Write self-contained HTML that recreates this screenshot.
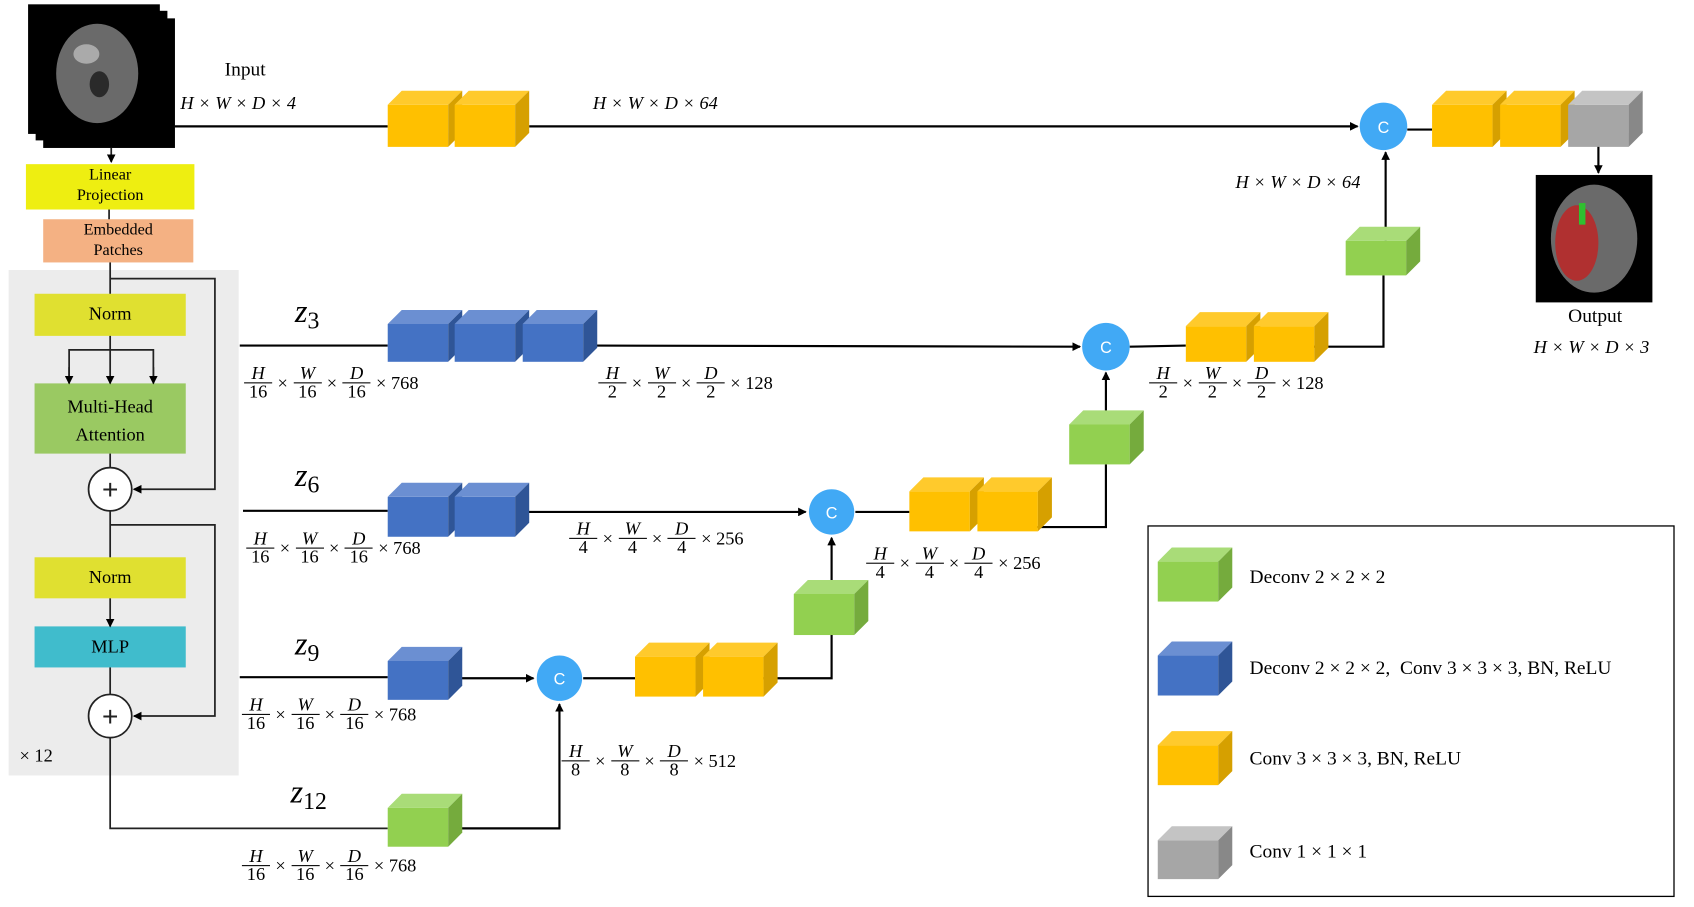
<!DOCTYPE html>
<html><head><meta charset="utf-8">
<style>
body{margin:0;width:1694px;height:907px;background:#fff;position:relative;overflow:hidden;font-family:"Liberation Serif",serif;}
#w{position:absolute;left:0;top:0;width:1569px;height:840px;transform:scale(1.08);transform-origin:0 0;}
svg{position:absolute;left:0;top:0}
.l{position:absolute;white-space:nowrap;font-family:"Liberation Serif",serif;font-size:17px;color:#000}
.m{font-style:italic}
.fl{position:absolute;display:flex;align-items:center;font-family:"Liberation Serif",serif;font-size:17px;white-space:nowrap}
.fr{display:inline-flex;flex-direction:column;align-items:center;line-height:16px;margin:0 2px}
.fr i{border-bottom:1px solid #000;padding:0 2px;display:block;text-align:center;min-width:22px}
.fr span{display:block}
.x{margin:0 3px}
.z{position:absolute;font-family:"Liberation Serif",serif;font-style:italic;font-size:30px}
.z sub{font-style:normal;font-size:22px;vertical-align:-6px}
</style></head><body><div id="w">
<svg width="1569" height="840">
<defs><marker id="a" markerWidth="8" markerHeight="8" refX="7" refY="4" orient="auto" markerUnits="userSpaceOnUse"><path d="M0,0 L8,4 L0,8 z" fill="#000"/></marker></defs>
<rect x="8" y="250" width="213" height="468" fill="#ececec"/>
<rect x="40" y="17" width="122" height="120" fill="#000"/>
<rect x="33" y="10" width="122" height="120" fill="#000"/>
<rect x="26" y="4" width="122" height="120" fill="#000"/>
<ellipse cx="90" cy="68" rx="38" ry="46" fill="#6a6a6a"/>
<ellipse cx="80" cy="50" rx="12" ry="9" fill="#aaa"/>
<ellipse cx="92" cy="78" rx="9" ry="12" fill="#2a2a2a"/>
<rect x="1422" y="162" width="108" height="118" fill="#000"/>
<ellipse cx="1476" cy="221" rx="40" ry="50" fill="#6a6a6a"/>
<ellipse cx="1460" cy="225" rx="20" ry="35" fill="#b03030"/>
<rect x="1462" y="188" width="6" height="20" fill="#30c030"/>
<rect x="24" y="152" width="156" height="42" fill="#eeee11"/>
<rect x="40" y="203" width="139" height="40" fill="#f4b183"/>
<rect x="32" y="272" width="140" height="39" fill="#e0e030"/>
<rect x="32" y="355" width="140" height="65" fill="#9ac962"/>
<rect x="32" y="516" width="140" height="38" fill="#e0e030"/>
<rect x="32" y="580" width="140" height="38" fill="#40bccc"/>
<g stroke="#222" stroke-width="1.6" fill="none">
<line x1="103" y1="137" x2="103" y2="150" marker-end="url(#a)"/>
<line x1="101" y1="194" x2="101" y2="203"/>
<line x1="102" y1="243" x2="102" y2="272"/>
<polyline points="102,258 199,258 199,453 124,453" marker-end="url(#a)"/>
<line x1="102" y1="311" x2="102" y2="355" marker-end="url(#a)"/>
<polyline points="64,354 64,324 142,324 142,354"/>
<line x1="64" y1="340" x2="64" y2="355" marker-end="url(#a)"/>
<line x1="142" y1="340" x2="142" y2="355" marker-end="url(#a)"/>
<line x1="102" y1="420" x2="102" y2="433"/>
<circle cx="102" cy="453" r="20" fill="#fff"/>
<line x1="102" y1="473" x2="102" y2="516"/>
<polyline points="102,486 199,486 199,663 124,663" marker-end="url(#a)"/>
<line x1="102" y1="554" x2="102" y2="580" marker-end="url(#a)"/>
<line x1="102" y1="618" x2="102" y2="643"/>
<circle cx="102" cy="663" r="20" fill="#fff"/>
<polyline points="102,683 102,767 359,767"/>
</g>
<g font-family="Liberation Sans" font-size="26" text-anchor="middle" fill="#222">
<text x="102" y="462">+</text><text x="102" y="672">+</text></g>
<g stroke="#000" stroke-width="2" fill="none">
<line x1="162" y1="117" x2="359" y2="117"/>
<line x1="490" y1="117" x2="1257" y2="117" marker-end="url(#a)"/>
<line x1="1303" y1="120" x2="1326" y2="120"/>
<line x1="1480" y1="135" x2="1480" y2="160" marker-end="url(#a)"/>
<line x1="1283" y1="223" x2="1283" y2="141" marker-end="url(#a)"/>
<line x1="222" y1="320" x2="359" y2="320"/>
<line x1="551" y1="320" x2="1000" y2="321" marker-end="url(#a)"/>
<line x1="1046" y1="321" x2="1098" y2="320"/>
<polyline points="1215,321 1281,321 1281,255"/>
<line x1="1024" y1="393" x2="1024" y2="345" marker-end="url(#a)"/>
<line x1="225" y1="473" x2="359" y2="473"/>
<line x1="488" y1="474" x2="746" y2="474" marker-end="url(#a)"/>
<line x1="792" y1="474" x2="842" y2="474"/>
<polyline points="960,488 1024,488 1024,430"/>
<line x1="770" y1="552" x2="770" y2="498" marker-end="url(#a)"/>
<line x1="222" y1="627" x2="359" y2="627"/>
<line x1="427" y1="628" x2="494" y2="628" marker-end="url(#a)"/>
<line x1="540" y1="628" x2="588" y2="628"/>
<polyline points="705,628 770,628 770,588"/>
<polyline points="425,767 518,767 518,652" marker-end="url(#a)"/>
</g>
<g fill="#41a9f5"><circle cx="1281" cy="117" r="22"/><circle cx="1024" cy="321" r="22"/><circle cx="770" cy="474" r="21"/><circle cx="518" cy="628" r="21"/></g>
<g fill="#fff" font-family="Liberation Sans" font-size="15" text-anchor="middle">
<text x="1281" y="123">C</text><text x="1024" y="327">C</text><text x="770" y="480">C</text><text x="518" y="634">C</text></g>
<rect x="1063" y="487" width="487" height="343" fill="none" stroke="#000" stroke-width="1.2"/>
<g id="cubes"></g>
</svg>
<div class="l" style="left:208px;top:54px;font-size:18px">Input</div>
<div class="l m" style="left:167px;top:86px">H × W × D × 4</div>
<div class="l m" style="left:549px;top:86px">H × W × D × 64</div>
<div class="l m" style="left:1144px;top:159px">H × W × D × 64</div>
<div class="l" style="left:1452px;top:282px;font-size:18px">Output</div>
<div class="l m" style="left:1420px;top:312px">H × W × D × 3</div>
<div class="l" style="left:24px;top:153px;width:156px;text-align:center;font-size:15px;line-height:19px">Linear<br>Projection</div>
<div class="l" style="left:40px;top:204px;width:139px;text-align:center;font-size:15px;line-height:19px">Embedded<br>Patches</div>
<div class="l" style="left:32px;top:281px;width:140px;text-align:center;font-size:17px">Norm</div>
<div class="l" style="left:32px;top:364px;width:140px;text-align:center;font-size:17px;line-height:26px">Multi-Head<br>Attention</div>
<div class="l" style="left:32px;top:525px;width:140px;text-align:center;font-size:17px">Norm</div>
<div class="l" style="left:32px;top:589px;width:140px;text-align:center;font-size:17px">MLP</div>
<div class="l" style="left:18px;top:690px;font-size:17px">× 12</div>
<div class="z" style="left:273px;top:272px">z<sub>3</sub></div>
<div class="z" style="left:273px;top:424px">z<sub>6</sub></div>
<div class="z" style="left:273px;top:580px">z<sub>9</sub></div>
<div class="z" style="left:269px;top:717px">z<sub>12</sub></div>
<div class="fl" style="left:224px;top:338px"><span class="fr"><i>H</i><span>16</span></span><span class="x">×</span><span class="fr"><i>W</i><span>16</span></span><span class="x">×</span><span class="fr"><i>D</i><span>16</span></span><span class="x">× 768</span></div>
<div class="fl" style="left:226px;top:491px"><span class="fr"><i>H</i><span>16</span></span><span class="x">×</span><span class="fr"><i>W</i><span>16</span></span><span class="x">×</span><span class="fr"><i>D</i><span>16</span></span><span class="x">× 768</span></div>
<div class="fl" style="left:222px;top:645px"><span class="fr"><i>H</i><span>16</span></span><span class="x">×</span><span class="fr"><i>W</i><span>16</span></span><span class="x">×</span><span class="fr"><i>D</i><span>16</span></span><span class="x">× 768</span></div>
<div class="fl" style="left:222px;top:785px"><span class="fr"><i>H</i><span>16</span></span><span class="x">×</span><span class="fr"><i>W</i><span>16</span></span><span class="x">×</span><span class="fr"><i>D</i><span>16</span></span><span class="x">× 768</span></div>
<div class="fl" style="left:552px;top:338px"><span class="fr"><i>H</i><span>2</span></span><span class="x">×</span><span class="fr"><i>W</i><span>2</span></span><span class="x">×</span><span class="fr"><i>D</i><span>2</span></span><span class="x">× 128</span></div>
<div class="fl" style="left:1062px;top:338px"><span class="fr"><i>H</i><span>2</span></span><span class="x">×</span><span class="fr"><i>W</i><span>2</span></span><span class="x">×</span><span class="fr"><i>D</i><span>2</span></span><span class="x">× 128</span></div>
<div class="fl" style="left:525px;top:482px"><span class="fr"><i>H</i><span>4</span></span><span class="x">×</span><span class="fr"><i>W</i><span>4</span></span><span class="x">×</span><span class="fr"><i>D</i><span>4</span></span><span class="x">× 256</span></div>
<div class="fl" style="left:800px;top:505px"><span class="fr"><i>H</i><span>4</span></span><span class="x">×</span><span class="fr"><i>W</i><span>4</span></span><span class="x">×</span><span class="fr"><i>D</i><span>4</span></span><span class="x">× 256</span></div>
<div class="fl" style="left:518px;top:688px"><span class="fr"><i>H</i><span>8</span></span><span class="x">×</span><span class="fr"><i>W</i><span>8</span></span><span class="x">×</span><span class="fr"><i>D</i><span>8</span></span><span class="x">× 512</span></div>
<div class="l" style="left:1157px;top:524px;font-size:18px">Deconv 2 × 2 × 2</div>
<div class="l" style="left:1157px;top:608px;font-size:18px">Deconv 2 × 2 × 2,&nbsp; Conv 3 × 3 × 3, BN, ReLU</div>
<div class="l" style="left:1157px;top:692px;font-size:18px">Conv 3 × 3 × 3, BN, ReLU</div>
<div class="l" style="left:1157px;top:778px;font-size:18px">Conv 1 × 1 × 1</div>
</div>
<script>
var C={y:["#ffc000","#ffca2c","#d6a000"],b:["#4472c4","#6b8fd2","#2f5597"],g:["#92d050","#a9dc78","#75ab3d"],k:["#a6a6a6","#c4c4c4","#888"]};
function cube(x,y,w,h,c,d){d=d||13;var p=C[c];return '<rect x="'+x+'" y="'+y+'" width="'+w+'" height="'+h+'" fill="'+p[0]+'"/>'+
'<polygon points="'+x+','+y+' '+(x+d)+','+(y-d)+' '+(x+w+d)+','+(y-d)+' '+(x+w)+','+y+'" fill="'+p[1]+'"/>'+
'<polygon points="'+(x+w)+','+y+' '+(x+w+d)+','+(y-d)+' '+(x+w+d)+','+(y+h-d)+' '+(x+w)+','+(y+h)+'" fill="'+p[2]+'"/>';}
var L=[[359,97,56,39,'y'],[421,97,56,39,'y'],[1326,97,56,39,'y'],[1389,97,56,39,'y'],[1452,97,56,39,'k'],
[1246,223,56,32,'g'],
[359,300,56,35,'b'],[421,300,56,35,'b'],[484,300,56,35,'b'],[1098,302,56,33,'y'],[1161,302,56,33,'y'],
[990,393,56,37,'g'],
[359,460,56,37,'b'],[421,460,56,37,'b'],[842,455,56,37,'y'],[905,455,56,37,'y'],
[735,550,56,38,'g'],
[359,612,56,36,'b'],[588,608,56,37,'y'],[651,608,56,37,'y'],
[359,748,56,36,'g'],
[1072,520,56,37,'g'],[1072,607,56,37,'b'],[1072,690,56,37,'y'],[1072,778,56,36,'k']];
var s='';L.forEach(function(c){s+=cube(c[0],c[1],c[2],c[3],c[4]);});
document.getElementById('cubes').innerHTML=s;
</script>
</body></html>
